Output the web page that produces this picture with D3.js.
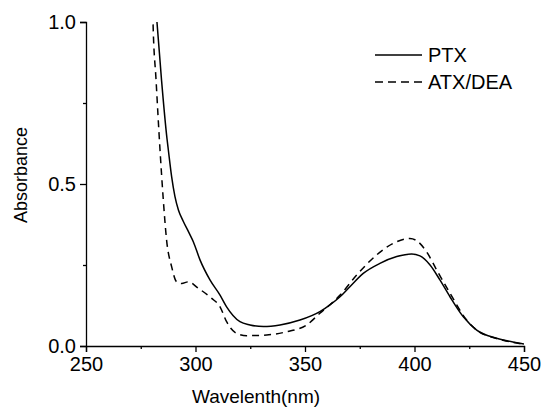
<!DOCTYPE html>
<html>
<head>
<meta charset="utf-8">
<script src="https://cdn.jsdelivr.net/npm/d3@7"></script>
<style>
  html, body { margin: 0; padding: 0; background: #fff; }
  svg { display: block; font-family: "Liberation Sans", Arial, sans-serif; }
</style>
</head>
<body>
<svg id="chart" width="541" height="408"></svg>
<script>
// UV-Vis absorption spectra
const ptxWavelength = [282.0, 282.4, 284.5, 287.0, 287.6, 289.1, 290.6, 292.2, 294.4, 297.0, 299.0, 302.1, 306.6, 311.2, 314.2, 320.3, 324.9, 331.0, 338.6, 347.7, 356.8, 361.4, 366.0, 370.5, 376.6, 384.2, 391.9, 398.7, 402.5, 407.1, 411.6, 416.2, 422.3, 428.4, 437.5, 446.7, 450.0];
const ptxAbsorbance = [1.03, 1.0, 0.82, 0.639, 0.605, 0.523, 0.462, 0.420, 0.385, 0.350, 0.322, 0.265, 0.204, 0.157, 0.121, 0.075, 0.065, 0.060, 0.065, 0.080, 0.106, 0.127, 0.152, 0.183, 0.224, 0.255, 0.276, 0.284, 0.278, 0.250, 0.204, 0.152, 0.090, 0.049, 0.024, 0.010, 0.006];

const atxWavelength = [280.5, 280.6, 282.0, 283.8, 285.3, 286.8, 289.1, 291.4, 293.7, 296.7, 301.3, 307.4, 311.2, 314.2, 318.8, 323.4, 332.5, 341.6, 350.8, 356.8, 361.5, 366.0, 373.6, 382.7, 390.3, 397.9, 401.0, 405.5, 410.1, 416.2, 423.8, 428.4, 437.5, 446.7, 450.0];
const atxAbsorbance = [1.03, 1.0, 0.82, 0.605, 0.451, 0.327, 0.245, 0.198, 0.193, 0.198, 0.178, 0.147, 0.121, 0.075, 0.039, 0.032, 0.034, 0.044, 0.065, 0.101, 0.128, 0.157, 0.219, 0.281, 0.317, 0.332, 0.325, 0.291, 0.235, 0.163, 0.080, 0.049, 0.023, 0.009, 0.005];

const xMajorTicks = [250, 300, 350, 400, 450];
const xMinorTicks = [275, 325, 375, 425];
const yMajorTicks = [0.0, 0.5, 1.0];
const yMinorTicks = [0.25, 0.75];

const seriesNames = ["PTX", "ATX/DEA"];

const svg = d3.select("#chart");
const x = d3.scaleLinear().domain([250, 450]).range([86, 524]);
const y = d3.scaleLinear().domain([0, 1]).range([346, 22]);

// clip the curves to the plotting area
svg.append("clipPath").attr("id", "plotClip")
  .append("rect").attr("x", 86).attr("y", 22).attr("width", 438).attr("height", 324);

const line = d3.line()
  .x(d => x(d[0]))
  .y(d => y(d[1]))
  .curve(d3.curveMonotoneX);

const ptx = ptxWavelength.map((w, i) => [w, ptxAbsorbance[i]]);
const atx = atxWavelength.map((w, i) => [w, atxAbsorbance[i]]);

const curves = svg.append("g").attr("clip-path", "url(#plotClip)");
curves.append("path").datum(ptx).attr("d", line)
  .attr("fill", "none").attr("stroke", "#000").attr("stroke-width", 1.5);
curves.append("path").datum(atx).attr("d", line)
  .attr("fill", "none").attr("stroke", "#000").attr("stroke-width", 1.5)
  .attr("stroke-dasharray", "7,5");

// axes: major ticks labelled, minor ticks shorter
const fontSize = 20;
svg.append("g").attr("transform", "translate(0,346)")
  .call(d3.axisBottom(x).tickValues(xMajorTicks).tickSize(6).tickPadding(5).tickFormat(d3.format("d")));
svg.append("g").attr("transform", "translate(0,346)")
  .call(d3.axisBottom(x).tickValues(xMinorTicks).tickSize(3).tickFormat(""))
  .select(".domain").remove();

svg.append("g").attr("transform", "translate(86,0)")
  .call(d3.axisLeft(y).tickValues(yMajorTicks).tickSize(6).tickPadding(4).tickFormat(d3.format(".1f")));
svg.append("g").attr("transform", "translate(86,0)")
  .call(d3.axisLeft(y).tickValues(yMinorTicks).tickSize(3).tickFormat(""))
  .select(".domain").remove();

svg.selectAll(".domain").attr("stroke", "#000").attr("stroke-width", 1.3);
svg.selectAll(".tick line").attr("stroke", "#000").attr("stroke-width", 1.3);
svg.selectAll(".tick text")
  .attr("fill", "#000")
  .style("font-family", "'Liberation Sans', Arial, sans-serif")
  .style("font-size", fontSize + "px");

// axis titles
svg.append("text")
  .attr("x", 256).attr("y", 403)
  .attr("text-anchor", "middle")
  .style("font-size", "19px")
  .text("Wavelenth(nm)");

svg.append("text")
  .attr("transform", "translate(27,175) rotate(-90)")
  .attr("text-anchor", "middle")
  .style("font-size", "18px")
  .text("Absorbance");

// legend
const legend = svg.append("g");
seriesNames.forEach((name, i) => {
  const ly = 55 + i * 27;
  legend.append("line")
    .attr("x1", 375).attr("x2", 422).attr("y1", ly).attr("y2", ly)
    .attr("stroke", "#000").attr("stroke-width", 1.5)
    .attr("stroke-dasharray", i === 1 ? "8,5" : null);
  legend.append("text")
    .attr("x", 428).attr("y", ly + 7)
    .style("font-size", "20px")
    .text(name);
});
</script>
</body>
</html>
